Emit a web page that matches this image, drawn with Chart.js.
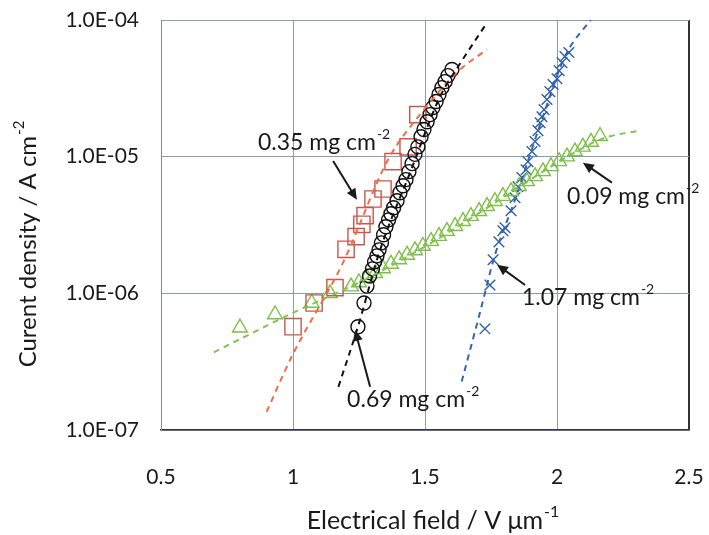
<!DOCTYPE html>
<html>
<head>
<meta charset="utf-8">
<script src="https://cdn.jsdelivr.net/npm/chart.js@4.4.1/dist/chart.umd.min.js"></script>
<style>
    html, body { margin: 0; padding: 0; background: #fff; }
</style>
</head>
<body>
<canvas id="fieldChart" width="709" height="535"></canvas>
<script>
// axis ticks
const xTicks = [0.5, 1, 1.5, 2, 2.5];
const yTicks = [1e-7, 1e-6, 1e-5, 1e-4];

// 0.35 mg cm-2 (squares)
const field035 = [1.000, 1.080, 1.159, 1.201, 1.239, 1.261, 1.273, 1.303, 1.341, 1.379, 1.436, 1.473];
const current035 = [5.7e-7, 8.5e-7, 1.1e-6, 2.1e-6, 2.6e-6, 3.2e-6, 3.7e-6, 4.9e-6, 5.8e-6, 9.2e-6, 1.18e-5, 2.03e-5];
const fit035X = [0.900, 0.995, 1.189, 1.360, 1.481, 1.625, 1.735];
const fit035Y = [1.36e-7, 3.44e-7, 1.67e-6, 9.5e-6, 2.03e-5, 4.2e-5, 6.1e-5];

// 0.69 mg cm-2 (circles)
const field069 = [1.246, 1.269, 1.280, 1.290, 1.301, 1.309, 1.318, 1.326, 1.335, 1.343, 1.352,
    1.362, 1.371, 1.381, 1.394, 1.405, 1.417, 1.428, 1.439, 1.451, 1.462, 1.473,
    1.485, 1.496, 1.508, 1.519, 1.530, 1.542, 1.553, 1.564, 1.576, 1.587, 1.602];
const current069 = [5.7e-7, 8.5e-7, 1.13e-6, 1.34e-6, 1.51e-6, 1.70e-6, 1.88e-6, 2.08e-6, 2.34e-6, 2.68e-6, 3.07e-6,
    3.45e-6, 3.82e-6, 4.23e-6, 4.76e-6, 5.45e-6, 6.13e-6, 6.79e-6, 7.77e-6, 8.89e-6, 1.04e-5, 1.18e-5,
    1.40e-5, 1.58e-5, 1.80e-5, 2.03e-5, 2.29e-5, 2.53e-5, 2.85e-5, 3.20e-5, 3.54e-5, 3.92e-5, 4.34e-5];
const fit069X = [1.172, 1.246, 1.330, 1.443, 1.557, 1.633, 1.734];
const fit069Y = [2.07e-7, 5.7e-7, 2.08e-6, 7.6e-6, 2.75e-5, 4.8e-5, 9.5e-5];

// 0.09 mg cm-2 (triangles)
const field009 = [0.799, 0.932, 1.071, 1.140, 1.220, 1.250, 1.280, 1.311, 1.341, 1.371, 1.402, 1.432,
    1.462, 1.492, 1.523, 1.553, 1.583, 1.614, 1.644, 1.674, 1.705, 1.735, 1.765, 1.795,
    1.826, 1.856, 1.886, 1.917, 1.947, 1.977, 2.008, 2.038, 2.068, 2.098, 2.129, 2.163];
const current009 = [5.6e-7, 7.0e-7, 8.5e-7, 1.0e-6, 1.12e-6, 1.20e-6, 1.30e-6, 1.40e-6, 1.52e-6, 1.64e-6, 1.77e-6, 1.91e-6,
    2.06e-6, 2.22e-6, 2.41e-6, 2.62e-6, 2.85e-6, 3.10e-6, 3.37e-6, 3.67e-6, 3.99e-6, 4.34e-6, 4.72e-6, 5.14e-6,
    5.58e-6, 6.07e-6, 6.60e-6, 7.18e-6, 7.81e-6, 8.49e-6, 9.23e-6, 1.00e-5, 1.09e-5, 1.18e-5, 1.28e-5, 1.41e-5];
const fit009X = [0.700, 1.000, 1.250, 1.500, 1.750, 2.000, 2.170, 2.310];
const fit009Y = [3.7e-7, 7.2e-7, 1.2e-6, 2.2e-6, 4.4e-6, 9.0e-6, 1.35e-5, 1.55e-5];

// 1.07 mg cm-2 (crosses)
const field107 = [1.727, 1.746, 1.758, 1.780, 1.795, 1.803, 1.826, 1.841, 1.852, 1.867, 1.883, 1.890, 1.905,
    1.917, 1.928, 1.936, 1.943, 1.951, 1.962, 1.973, 1.985, 2.000, 2.008, 2.019, 2.030, 2.045];
const current107 = [5.5e-7, 1.15e-6, 1.76e-6, 2.38e-6, 2.87e-6, 3.02e-6, 4.02e-6, 5.01e-6, 6.03e-6, 7.02e-6, 8.03e-6, 9.19e-6, 1.09e-5,
    1.29e-5, 1.55e-5, 1.77e-5, 1.96e-5, 2.21e-5, 2.62e-5, 2.99e-5, 3.37e-5, 3.72e-5, 4.26e-5, 4.88e-5, 5.41e-5, 5.78e-5];
const fit107X = [1.639, 1.708, 1.765, 1.841, 1.936, 2.030, 2.134];
const fit107Y = [2.26e-7, 7.2e-7, 1.91e-6, 4.84e-6, 1.71e-5, 5.4e-5, 1.04e-4];

// annotation labels (text + arrow), in data units
const labelTexts = ['0.35 mg cm', '0.69 mg cm', '0.09 mg cm', '1.07 mg cm'];
const labelX = [0.867, 1.205, 2.038, 1.867];
const labelY = [1.27e-5, 1.66e-7, 5.09e-6, 9.27e-7];
const arrowFromX = [1.152, 1.292, 2.208, 1.879];
const arrowFromY = [9.3e-6, 2.07e-7, 6.46e-6, 1.15e-6];
const arrowToX = [1.242, 1.235, 2.098, 1.773];
const arrowToY = [4.84e-6, 5.4e-7, 9.03e-6, 1.62e-6];

const fontFamily = "Lato, 'Open Sans', sans-serif";
const textColor = '#1a1a1a';

function toPoints(xs, ys) {
    return xs.map((v, i) => ({ x: v, y: ys[i] }));
}

function formatExp(value) {
    const exp = Math.round(Math.log10(value));
    return '1.0E-' + String(-exp).padStart(2, '0');
}

function drawSupText(ctx, base, sup, x, y, size, align) {
    ctx.font = size + 'px ' + fontFamily;
    const baseWidth = ctx.measureText(base).width;
    ctx.font = Math.round(size * 0.62) + 'px ' + fontFamily;
    const supWidth = ctx.measureText(sup).width;
    let start = x;
    if (align === 'center') start = x - (baseWidth + supWidth + 1) / 2;
    ctx.textAlign = 'left';
    ctx.textBaseline = 'middle';
    ctx.font = size + 'px ' + fontFamily;
    ctx.fillText(base, start, y);
    ctx.font = Math.round(size * 0.62) + 'px ' + fontFamily;
    ctx.fillText(sup, start + baseWidth + 1, y - size * 0.36);
}

function drawArrow(ctx, x1, y1, x2, y2) {
    const angle = Math.atan2(y2 - y1, x2 - x1);
    const head = 11;
    ctx.lineWidth = 2;
    ctx.beginPath();
    ctx.moveTo(x1, y1);
    ctx.lineTo(x2 - Math.cos(angle) * head * 0.8, y2 - Math.sin(angle) * head * 0.8);
    ctx.stroke();
    ctx.beginPath();
    ctx.moveTo(x2, y2);
    ctx.lineTo(x2 - head * Math.cos(angle) + 5 * Math.sin(angle), y2 - head * Math.sin(angle) - 5 * Math.cos(angle));
    ctx.lineTo(x2 - head * Math.cos(angle) - 5 * Math.sin(angle), y2 - head * Math.sin(angle) + 5 * Math.cos(angle));
    ctx.closePath();
    ctx.fill();
}

const annotationPlugin = {
    id: 'annotations',
    afterDraw(chart) {
        const { ctx, chartArea, scales: { x, y } } = chart;
        ctx.save();
        ctx.fillStyle = textColor;
        ctx.strokeStyle = textColor;
        labelTexts.forEach((text, i) => {
            drawSupText(ctx, text, '-2', x.getPixelForValue(labelX[i]), y.getPixelForValue(labelY[i]), 23, 'left');
            drawArrow(ctx,
                x.getPixelForValue(arrowFromX[i]), y.getPixelForValue(arrowFromY[i]),
                x.getPixelForValue(arrowToX[i]), y.getPixelForValue(arrowToY[i]));
        });

        // axis titles
        drawSupText(ctx, 'Electrical field / V \u03bcm', '-1', (chartArea.left + chartArea.right) / 2 + 8, chartArea.bottom + 91, 25, 'center');
        ctx.translate(28, (chartArea.top + chartArea.bottom) / 2 + 19);
        ctx.rotate(-Math.PI / 2);
        drawSupText(ctx, 'Curent density / A cm', '-2', 0, 0, 24, 'center');
        ctx.restore();
    }
};

const markerSet = (label, xs, ys, style, radius, color) => ({
    label: label,
    data: toPoints(xs, ys),
    showLine: false,
    pointStyle: style,
    pointRadius: radius,
    pointBorderWidth: 1.4,
    pointBorderColor: color,
    pointBackgroundColor: 'rgba(0,0,0,0)'
});

const fitSet = (label, xs, ys, color) => ({
    label: label,
    data: toPoints(xs, ys),
    showLine: true,
    borderColor: color,
    borderWidth: 2,
    borderDash: [6, 5],
    pointRadius: 0,
    cubicInterpolationMode: 'monotone'
});

const ctx = document.getElementById('fieldChart').getContext('2d');
new Chart(ctx, {
    type: 'scatter',
    data: {
        datasets: [
            fitSet('fit 0.69', fit069X, fit069Y, '#111111'),
            fitSet('fit 0.35', fit035X, fit035Y, '#f26a45'),
            fitSet('fit 0.09', fit009X, fit009Y, '#82c250'),
            fitSet('fit 1.07', fit107X, fit107Y, '#3366b0'),
            markerSet('0.69 mg cm-2', field069, current069, 'circle', 7, '#111111'),
            markerSet('0.35 mg cm-2', field035, current035, 'rect', 11.5, '#c8574f'),
            markerSet('0.09 mg cm-2', field009, current009, 'triangle', 8.5, '#7dbf48'),
            markerSet('1.07 mg cm-2', field107, current107, 'crossRot', 7.5, '#2f5fa8')
        ]
    },
    options: {
        responsive: false,
        animation: false,
        devicePixelRatio: 1,
        layout: {
            padding: { top: 20, right: 20, left: 0, bottom: 0 }
        },
        plugins: {
            legend: { display: false },
            tooltip: { enabled: false }
        },
        scales: {
            x: {
                type: 'linear',
                min: 0.5,
                max: 2.5,
                afterBuildTicks: scale => { scale.ticks = xTicks.map(v => ({ value: v })); },
                afterFit: scale => {
                    scale.height = 105;
                    scale.paddingLeft = 0;
                    scale.paddingRight = 0;
                },
                ticks: {
                    color: textColor,
                    padding: 35,
                    font: { family: fontFamily, size: 21 },
                    callback: value => String(value)
                },
                grid: {
                    drawTicks: false,
                    color: c => c.tick && c.tick.value === 2.5 ? '#333333' : '#9a9a9a',
                    lineWidth: c => c.tick && c.tick.value === 2.5 ? 2 : 1
                },
                border: { color: '#3a3a3a', width: 1.5 }
            },
            y: {
                type: 'logarithmic',
                min: 1e-7,
                max: 1e-4,
                afterBuildTicks: scale => { scale.ticks = yTicks.map(v => ({ value: v })); },
                afterFit: scale => {
                    scale.width = 161;
                    scale.paddingTop = 0;
                    scale.paddingBottom = 0;
                },
                ticks: {
                    color: textColor,
                    padding: 22,
                    font: { family: fontFamily, size: 21 },
                    callback: value => formatExp(value)
                },
                grid: {
                    drawTicks: false,
                    color: '#7f9dbd',
                    lineWidth: 1
                },
                border: { color: '#8a8a8a', width: 1 }
            }
        }
    },
    plugins: [annotationPlugin]
});
</script>
</body>
</html>
